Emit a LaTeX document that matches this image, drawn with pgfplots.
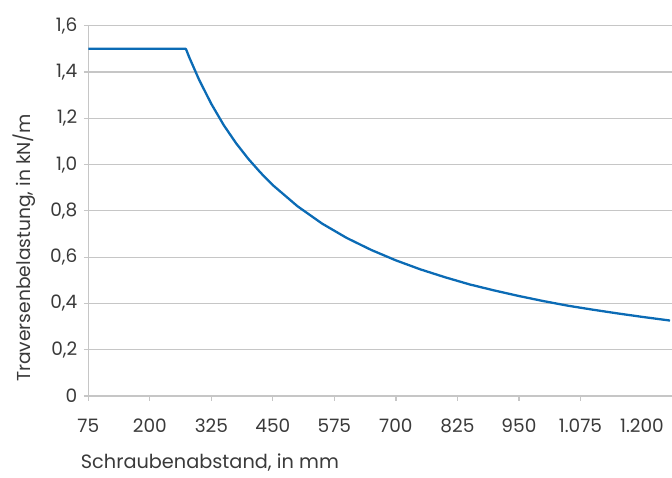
\documentclass[border=0pt]{standalone}
\usepackage{pgfplots}
\pgfplotsset{compat=1.18}
\usepackage{fontspec}
\setmainfont{Poppins}
\definecolor{txt}{HTML}{3A3A3A}
\definecolor{grd}{HTML}{C6C6C6}
\definecolor{blu}{HTML}{0B6BB5}
\begin{document}
\begin{tikzpicture}[x=1pt,y=1pt]
\begin{axis}[
  at={(88.3pt,81pt)}, anchor=south west,
  scale only axis, width=583.7pt, height=370.3pt,
  xmin=75, xmax=1261, ymin=0, ymax=1.6,
  axis x line*=bottom, axis y line*=left,
  axis line style={grd, line width=1.2pt},
  tick align=outside, major tick length=4.5pt,
  tick style={grd, line width=1.2pt},
  xtick={75,200,325,450,575,700,825,950,1075},
  xticklabels={75,200,325,450,575,700,825,950,{1.075}},
  extra x ticks={1200}, extra x tick labels={{1.200}},
  extra x tick style={tick style={draw=none}},
  ytick={0,0.2,0.4,0.6,0.8,1.0,1.2,1.4,1.6},
  yticklabels={0,{0,2},{0,4},{0,6},{0,8},{1,0},{1,2},{1,4},{1,6}},
  ymajorgrids, grid style={grd, line width=1.2pt},
  ticklabel style={font=\fontsize{18.5}{18.5}\selectfont, text=txt},
  xticklabel style={yshift=-15pt},
  yticklabel style={xshift=-3pt},
  xlabel={Schraubenabstand, in mm},
  ylabel={Traversenbelastung, in kN/m},
  label style={text=txt},
  xlabel style={font=\fontsize{19.3}{19.3}\selectfont, at={(axis description cs:-0.013,-0.181)}, anchor=west, inner sep=0pt},
  ylabel style={font=\fontsize{18.7}{18.7}\selectfont, at={(axis description cs:-0.110,0.40)}, anchor=center, rotate=0, inner sep=0pt},
  clip=false,
]
\addplot[blu, line width=2.3pt, line join=round] coordinates {
(75,1.5) (273.3,1.5) (280,1.464) (300,1.367) (325,1.262) (350,1.171) (375,1.093)
(400,1.025) (425,0.965) (450,0.911) (500,0.820) (550,0.745) (600,0.683)
(650,0.631) (700,0.586) (750,0.547) (800,0.513) (850,0.482) (900,0.456)
(950,0.432) (1000,0.410) (1050,0.390) (1100,0.373) (1150,0.357) (1200,0.342) (1257,0.326)
};
\end{axis}
\pgfresetboundingbox
\useasboundingbox (0,0) rectangle (672,477);
\end{tikzpicture}
\end{document}
